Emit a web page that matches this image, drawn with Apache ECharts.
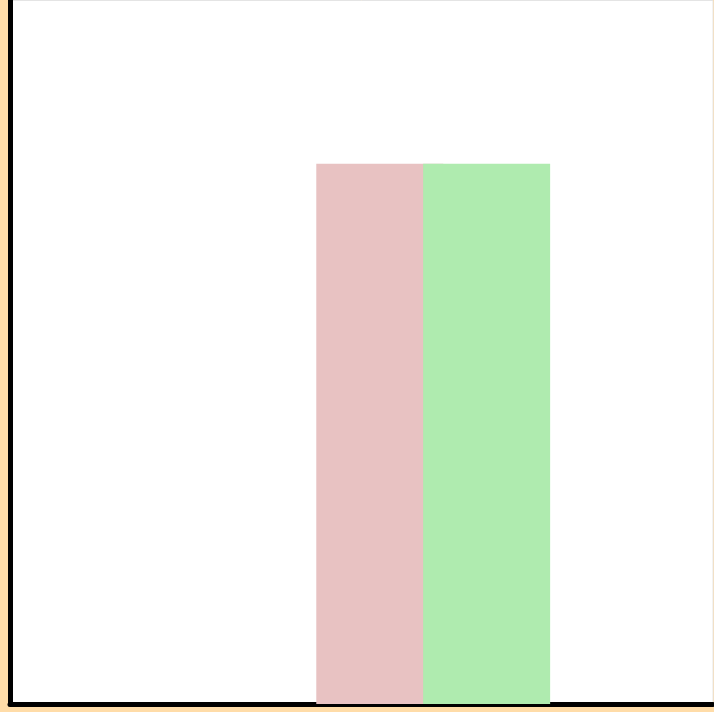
<!DOCTYPE html>
<html>
<head>
<meta charset="utf-8">
<script src="https://cdn.jsdelivr.net/npm/echarts@6/dist/echarts.min.js"></script>
<style>
  html, body { margin: 0; padding: 0; background: #ffdca8; }
  #main { width: 714px; height: 712px; }
</style>
</head>
<body>
<div id="main"></div>
<script>
// bar positions on the x scale and heights
const pinkX = [52.6]
const pinkY = [76.8]
const greenX = [67.8]
const greenY = [76.8]

const chart = echarts.init(document.getElementById('main'))

chart.setOption({
  animation: false,
  grid: {
    left: 10,
    right: 1,
    top: 0.5,
    bottom: 8,
    show: true,
    backgroundColor: '#fff',
    borderColor: '#e4e4e4',
    borderWidth: 1
  },
  xAxis: {
    type: 'value',
    min: 0,
    max: 100,
    axisLine: { show: true, lineStyle: { color: '#000', width: 5 } },
    axisTick: { show: false },
    axisLabel: { show: false },
    splitLine: { show: false }
  },
  yAxis: {
    type: 'value',
    min: 0,
    max: 100,
    axisLine: { show: true, lineStyle: { color: '#000', width: 5 } },
    axisTick: { show: false },
    axisLabel: { show: false },
    splitLine: { show: false }
  },
  series: [
    {
      type: 'bar',
      barWidth: 127,
      barGap: '-100%',
      itemStyle: { color: '#e8c2c2' },
      data: pinkX.map((x, i) => [x, pinkY[i]])
    },
    {
      type: 'bar',
      barWidth: 127,
      barGap: '-100%',
      itemStyle: { color: '#afebaf' },
      data: greenX.map((x, i) => [x, greenY[i]])
    }
  ]
})
</script>
</body>
</html>
